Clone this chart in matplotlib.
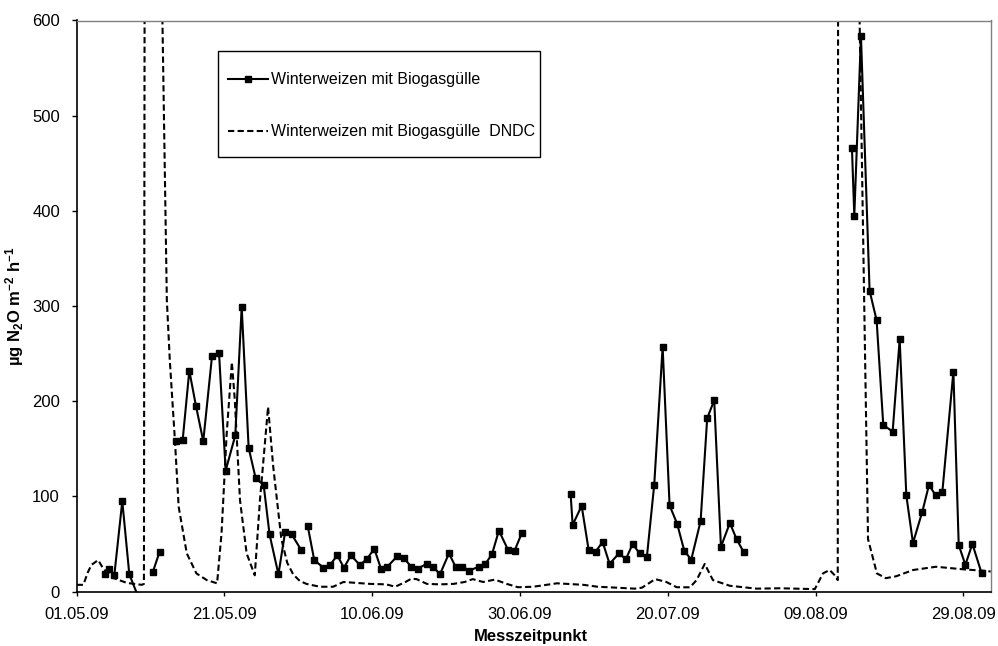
import matplotlib
matplotlib.use('Agg')
import matplotlib.pyplot as plt
import numpy as np
from matplotlib.patches import Rectangle

plt.rcParams['font.family'] = ['Liberation Sans', 'DejaVu Sans']
plt.rcParams['mathtext.fontset'] = 'custom'
plt.rcParams['mathtext.rm'] = 'Liberation Sans:bold'
plt.rcParams['mathtext.bf'] = 'Liberation Sans:bold'
plt.rcParams['mathtext.default'] = 'rm'

# ---- data (x = days after 01.05.09) ----
tick_days = [0, 20, 40, 60, 80, 100, 120]
tick_labels = ["01.05.09", "21.05.09", "10.06.09", "30.06.09", "20.07.09", "09.08.09", "29.08.09"]

# measured series (None = gap in the line)
meas_days = [3.83, 4.37, 5.09, 6.17, 7.12, 8.3, None,
             10.28, 11.23, None,
             13.4, 14.34, 15.24, 16.14, 17.13, 18.31, 19.26, 20.16, 21.46, 22.33,
             23.27, 24.22, 25.3, 26.1, 27.3, 28.2, 29.1, 30.35, None,
             31.26, 32.15, 33.4, 34.3, 35.27, 36.17, 37.12, 38.3, 39.28, 40.27,
             41.18, 42.03, 43.38, 44.29, 45.28, 46.14, 47.36, 48.26, 49.16, 50.38,
             51.28, 52.18, 53.13, 54.4, 55.3, 56.2, 57.14, 58.36, 59.27, 60.22, None,
             66.85, 67.12, 68.34, 69.28, 70.23, 71.18, 72.12, 73.38, 74.33, 75.24,
             76.18, 77.17, 78.16, 79.3, 80.24, 81.27, 82.22, 83.17, 84.44, 85.33,
             86.28, 87.19, 88.4, 89.31, 90.26, None,
             104.92, 105.24, 106.14, 107.31, 108.26, 109.16, 110.43, 111.38, 112.28, 113.18,
             114.45, 115.35, 116.25, 117.16, 118.65, 119.37, 120.27, 121.22, 122.48]
meas_vals = [18, 24, 17, 95, 18, -5, None,
             20, 42, None,
             158, 159, 232, 195, 158, 247, 251, 127, 164, 299,
             151, 119, 112, 60, 18, 62, 60, 44, None,
             69, 33, 25, 28, 38, 25, 38, 28, 34, 45,
             24, 26, 37, 35, 26, 24, 29, 26, 18, 40,
             26, 26, 22, 26, 29, 39, 64, 44, 43, 61, None,
             102, 70, 90, 44, 42, 52, 29, 40, 34, 50,
             40, 36.5, 112, 257, 90.5, 71, 43, 33.4, 74, 182,
             201, 47, 72, 55, 41.5, None,
             466, 395, 584, 316, 285, 175, 168, 265, 101, 51,
             84, 112, 101, 105, 231, 49, 28, 50, 19]

# DNDC model series
dndc_days = [0, 0.9, 1.5, 2.0, 2.9, 3.6, 5.0, 6.8, 8.8, 9.1, 9.2, 11.4, 12.2, 12.6, 13.3,
             13.8, 14.9, 16.2, 17.6, 19.0, 19.6, 20.3, 21.0, 21.4, 22.1, 23.0, 24.1,
             24.8, 25.9, 26.6, 27.7, 28.5, 29.3, 30.2, 31.1, 32.9, 34.7, 36.1, 37.9,
             39.7, 41.9, 43.1, 44.5, 45.3, 46.0, 47.4, 49.2, 51.0, 52.5, 53.6, 55.0,
             56.6, 58.2, 59.7, 61.8, 65.0, 68.6, 70.5, 73.1, 75.5, 76.5, 78.3, 79.8,
             81.2, 83.0, 83.9, 85.0, 86.1, 88.4, 92.0, 95.2, 99.9, 100.4, 101.0, 101.9,
             102.6, 103.0, 103.05, 105.75, 107.1, 108.3, 109.5, 110.9, 113.2, 116.3,
             120.0, 122.7, 123.7]
dndc_vals = [7, 7, 20, 28, 33, 24, 14, 9, 7, 8, 700, 700, 306, 243, 158,
             89, 40, 19, 12, 8.6, 61, 166, 241, 201, 96, 40, 17,
             96, 194, 131, 55, 30, 18, 11, 8, 5, 5, 10, 9,
             8, 7.5, 5, 10, 13.5, 13, 8, 7.5, 8, 10, 13, 10,
             12.5, 8, 4.5, 5, 8.6, 7, 5, 4, 3, 4, 13, 10,
             4.5, 4.4, 12, 29, 12, 6, 3, 3.4, 2.5, 10, 19, 22.6,
             17, 12, 700, 700, 55, 19, 14, 16, 22.6, 26,
             23.3, 21.8, 21]

y_ticks = [0, 100, 200, 300, 400, 500, 600]

# ---- figure ----
fig = plt.figure(figsize=(9.98, 6.46), dpi=100)
ax = fig.add_axes([76.7 / 998, 1 - 591.5 / 646, 914 / 998, 571 / 646])

md = np.array([np.nan if v is None else v for v in meas_days], dtype=float)
mv = np.array([np.nan if v is None else v for v in meas_vals], dtype=float)

ax.plot(md, mv, color='black', lw=1.5, marker='s', markersize=5,
        markerfacecolor='black', markeredgecolor='black',
        label='Winterweizen mit Biogasgülle', zorder=3)
ax.plot(dndc_days, dndc_vals, color='black', lw=1.5, linestyle=(0, (3, 1.6)),
        label='Winterweizen mit Biogasgülle  DNDC', zorder=2)

ax.set_xlim(0, 123.7)
ax.set_ylim(0, 600)
ax.set_xticks(tick_days)
ax.set_xticklabels(tick_labels)
ax.set_yticks(y_ticks)

ax.tick_params(axis='x', direction='out', length=3, width=1, pad=8, labelsize=12)
ax.tick_params(axis='y', direction='out', length=3.6, width=1, pad=8.5, labelsize=12)

for s in ['top', 'right']:
    ax.spines[s].set_color('#808080')
    ax.spines[s].set_linewidth(1.0)
for s in ['left', 'bottom']:
    ax.spines[s].set_color('black')
    ax.spines[s].set_linewidth(1.2)

ax.set_xlabel('Messzeitpunkt', fontsize=12, fontweight='bold')
ax.xaxis.set_label_coords(0.497, -0.066)
ax.set_ylabel('µg N$_2$O m$^{-2}$ h$^{-1}$', fontsize=12, fontweight='bold')
ax.yaxis.set_label_coords(-0.056, 0.5)

# legend
ax.add_patch(Rectangle((0.1546, 0.761), 0.3524, 0.186, transform=ax.transAxes,
                       facecolor='white', edgecolor='black', lw=1.0, zorder=4))
leg = ax.legend(loc='upper left', bbox_to_anchor=(0.1655, 0.909), frameon=False,
                borderpad=0, borderaxespad=0, fontsize=11.5, handlelength=2.5,
                handletextpad=0.2, labelspacing=2.3)
leg.set_zorder(5)

fig.savefig('out.png', dpi=100)
